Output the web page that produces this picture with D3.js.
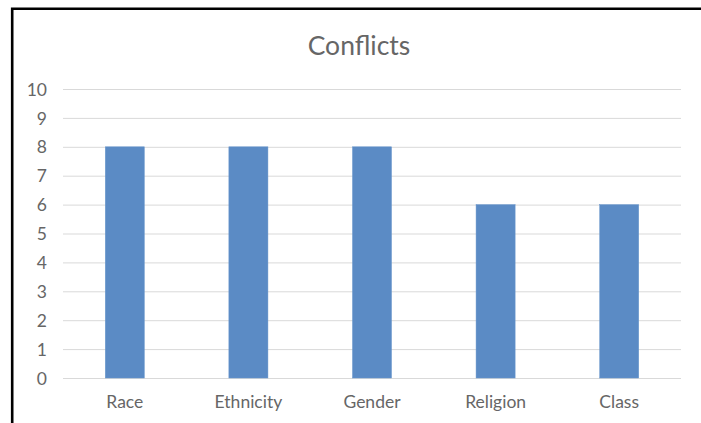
<!DOCTYPE html>
<html><head><meta charset="utf-8">
<script src="https://cdn.jsdelivr.net/npm/d3@7"></script>
<style>body{margin:0;background:#fff;}svg{display:block;}</style>
</head><body>
<script>
const categories = ["Race","Ethnicity","Gender","Religion","Class"];
const values = [8,8,8,6,6];
const yTicks = [0,1,2,3,4,5,6,7,8,9,10];
const title = "Conflicts";

(function(){
const W = 701, H = 423;
const svg = d3.select("body").append("svg").attr("width", W).attr("height", H);
svg.append("rect").attr("width", W).attr("height", H).attr("fill", "#fff");
svg.append("path").attr("d", "M12.2,423 V8.7 H701").attr("fill","none").attr("stroke","#000").attr("stroke-width",2.6);

const mL = 63, mR = 681, mT = 89, mB = 378;
const x = d3.scaleBand().domain(categories).range([mL, mR]).paddingInner(0.684).paddingOuter(0.342);
const y = d3.scaleLinear().domain([0,10]).range([mB, mT]);
const font = "Lato, 'Open Sans', sans-serif";

svg.append("g").selectAll("line").data(yTicks).join("line")
  .attr("x1", mL).attr("x2", mR)
  .attr("y1", d => y(d) + 0.5).attr("y2", d => y(d) + 0.5)
  .attr("stroke", "#d9d9d9").attr("stroke-width", 1);

svg.append("g").selectAll("rect").data(values).join("rect")
  .attr("x", (d,i) => x(categories[i]))
  .attr("width", x.bandwidth())
  .attr("y", d => y(d))
  .attr("height", d => y(0) - y(d))
  .attr("fill", "#5b8bc5").attr("stroke", "#6a97cc").attr("stroke-width", 0.5);

const yAxis = d3.axisLeft(y).tickValues(yTicks).tickSize(0).tickPadding(0);
svg.append("g").attr("transform", `translate(${mL-16},0)`).call(yAxis)
  .call(g => g.select(".domain").remove())
  .call(g => g.selectAll("text").attr("font-family", font).attr("font-size", 17.5).attr("fill", "#666").attr("dy", "0.35em"));

const xAxis = d3.axisBottom(x).tickSize(0).tickPadding(0);
svg.append("g").attr("transform", `translate(0,${mB+18})`).call(xAxis)
  .call(g => g.select(".domain").remove())
  .call(g => g.selectAll("text").attr("font-family", font).attr("font-size", 17.5).attr("fill", "#666").attr("dy", "0.71em"));

svg.append("text").attr("x", (mL+mR)/2 - 13).attr("y", 55)
  .attr("text-anchor", "middle").attr("font-family", font).attr("font-size", 26.5)
  .attr("fill", "#666").text(title);
})();
</script>
</body></html>
